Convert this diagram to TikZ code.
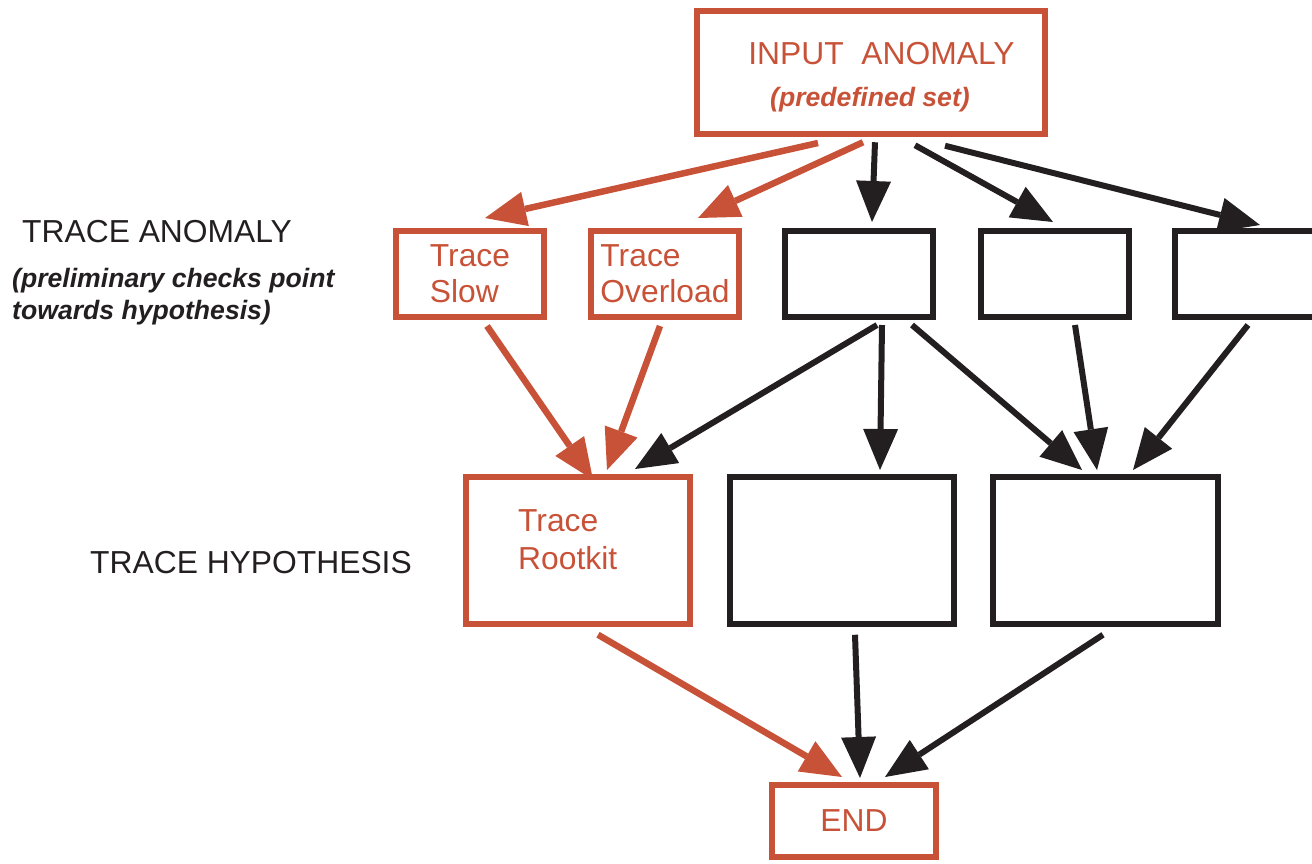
\documentclass[tikz,border=0pt]{standalone}
\usepackage{fontspec}
\setmainfont{Liberation Sans}
\usetikzlibrary{arrows.meta}
\definecolor{rust}{RGB}{200,82,55}
\definecolor{ink}{RGB}{35,31,32}
\newcommand\mainsize{\fontsize{31.8}{36}\selectfont}
\newcommand\notesize{\fontsize{26.6}{32}\selectfont\bfseries\itshape}
\begin{document}
\begin{tikzpicture}[x=1pt,y=-1pt,
  smallbox/.style={draw,line width=6pt,minimum width=148pt,minimum height=86pt,inner sep=0pt,align=left,font=\mainsize},
  bigbox/.style={draw,line width=6pt,minimum width=224.5pt,minimum height=147.5pt,inner sep=0pt},
  txt/.style={inner sep=0pt,font=\mainsize},
  flow/.style={line width=6pt,-{Triangle[length=41pt,width=35pt,line width=0pt]}},
  hot/.style={flow,draw=rust,fill=rust,line width=6.5pt},
  cold/.style={flow,draw=ink,fill=ink},
]
\useasboundingbox (0,0) rectangle (1312,863);
\clip (0,0) rectangle (1312,863);

% row labels
\node[txt,anchor=base west,text=ink] (lblA) at (22,242) {TRACE ANOMALY};
\node[inner sep=0pt,anchor=base west,align=left,font=\notesize,text=ink] (lblB) at (12,319)
  {(preliminary checks point\\towards hypothesis)};
\node[txt,anchor=base west,text=ink] (lblC) at (90,573) {TRACE HYPOTHESIS};

% input
\node[draw=rust,line width=6pt,minimum width=348.5pt,minimum height=123.5pt,inner sep=0pt] (in) at (871,72.5) {};
\node[txt,anchor=base,text=rust] (inT) at (881.5,64) {INPUT\ \ ANOMALY};
\node[inner sep=0pt,anchor=base,font=\notesize,text=rust] (inN) at (870,106) {(predefined set)};

% anomaly row
\node[smallbox,draw=rust,text=rust] (slow) at (470,273.5) {Trace\\Slow};
\node[smallbox,draw=rust,text=rust] (over) at (665,273.5) {Trace\\Overload};
\node[smallbox,draw=ink] (b1) at (858.5,273.5) {};
\node[smallbox,draw=ink] (b2) at (1054.5,273.5) {};
\node[smallbox,draw=ink] (b3) at (1249,273.5) {};

% hypothesis row
\node[bigbox,draw=rust] (rk) at (578,550.5) {};
\node[txt,anchor=base west,align=left,text=rust,font=\fontsize{31.8}{38}\selectfont] (rkT) at (518,569) {Trace\\Rootkit};
\node[bigbox,draw=ink] (b4) at (842,550.5) {};
\node[bigbox,draw=ink] (b5) at (1105.5,550.5) {};

% end
\node[draw=rust,line width=6pt,minimum width=164.5pt,minimum height=72.5pt,inner sep=0pt,text=rust,font=\mainsize] (end) at (854,821) {END};

% input -> anomalies
\draw[hot] ([shift={(-53,5.75)}]in.south) -- ([shift={(15,-9.5)}]slow.north);
\draw[hot] ([shift={(-8,5)}]in.south) -- ([shift={(33,-9.5)}]over.north);
\draw[cold] ([shift={(4,5)}]in.south) -- ([shift={(13.5,-5.5)}]b1.north);
\draw[cold] ([shift={(44,8)}]in.south) -- ([shift={(-1.5,-5.5)}]b2.north);
\draw[cold] ([shift={(74,8.5)}]in.south) -- ([shift={(11,-2.5)}]b3.north);

% anomalies -> hypotheses
\draw[hot] ([shift={(17,6.5)}]slow.south) -- ([shift={(15,6)}]rk.north);
\draw[hot] ([shift={(-5,6.5)}]over.south) -- ([shift={(29,-3.75)}]rk.north);
\draw[cold] ([shift={(18.5,5.5)}]b1.south) -- ([shift={(57,-4.75)}]rk.north);
\draw[cold] ([shift={(23.5,5.5)}]b1.south) -- ([shift={(38,-3.75)}]b4.north);
\draw[cold] ([shift={(53.5,5.5)}]b1.south) -- ([shift={(-23.5,-3.75)}]b5.north);
\draw[cold] ([shift={(20.5,5.5)}]b2.south) -- ([shift={(-8.5,-3.75)}]b5.north);
\draw[cold] ([shift={(-1,5.5)}]b3.south) -- ([shift={(27.5,-3.75)}]b5.north);

% hypotheses -> end
\draw[hot] ([shift={(20,7.5)}]rk.south) -- ([shift={(-12,-4.75)}]end.north);
\draw[cold] ([shift={(13,7.5)}]b4.south) -- ([shift={(6,-3.75)}]end.north);
\draw[cold] ([shift={(-2.5,7.5)}]b5.south) -- ([shift={(31,-4.75)}]end.north);
\end{tikzpicture}
\end{document}
